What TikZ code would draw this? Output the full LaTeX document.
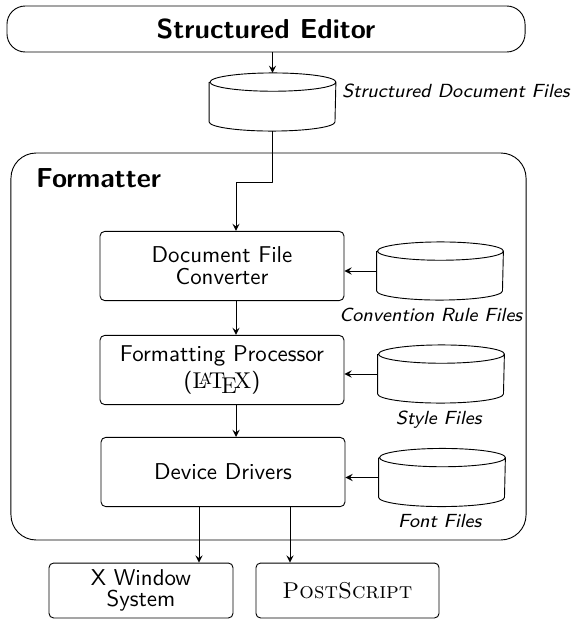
\documentclass[tikz,border=0pt]{standalone}
\usetikzlibrary{positioning}
\tikzset{
  box/.style={draw,rounded corners=2pt,minimum width=106.6pt,minimum height=30.2pt,align=center,inner sep=1pt},
  flabel/.style={font=\sffamily\fontsize{8.3pt}{10pt}\selectfont\itshape},
  title/.style={font=\sffamily\large\bfseries},
}
% a file store: named node plus the drum outline round it
\newcommand{\drum}[2]{%
  \node[minimum width=55pt,minimum height=25pt,inner sep=0pt] (#1) at (#2) {};
  \draw ([yshift=-4pt]#1.north west) -- ([yshift=4pt]#1.south west)
    arc[start angle=180,end angle=360,x radius=27.5pt,y radius=4pt]
    -- ([yshift=-4pt]#1.north east)
    arc[start angle=0,end angle=360,x radius=27.5pt,y radius=4pt];
}
\begin{document}
\begin{tikzpicture}[x=.437pt,y=-.437pt,>=stealth,line join=round,font=\sffamily]
	\useasboundingbox (0,0) rectangle (571,621);
	\node[draw,title,rounded corners=8pt,minimum width=226.4pt,minimum height=20.1pt] (editor) at (266,29) {Structured Editor};
	\drum{sdf}{272.5,102}
	\node[flabel,anchor=west] (sdflbl) at (334,91) {Structured Document Files};
	
	\node[draw,rounded corners=11pt,minimum width=225.1pt,minimum height=169.1pt] (fmt) at (268.5,346.5) {};
	\node[title,anchor=west] (fmtlbl) at (28,178) {Formatter};
	
	\node[box] (dfc) at (222,266) {Document File\\[-2.5pt]Converter};
	\node[box] (fp) at (222,370) {Formatting Processor\\(\textrm{\LaTeX})};
	\node[box] (dd) at (223,472) {Device Drivers};
	
	\drum{crf}{440,271}
	\drum{sf}{441,374}
	\drum{ff}{442,477.5}
	\node[flabel,below=0pt of crf,xshift=-4pt] (crflbl) {Convention Rule Files};
	\node[flabel,below=0pt of sf,xshift=-1pt] (sflbl) {Style Files};
	\node[flabel,below=0pt of ff,xshift=-1pt] (fflbl) {Font Files};
	
	\node[box,minimum width=80.4pt,minimum height=24pt] (xws) at (141,590.5) {X Window\\[-2.5pt]System};
	\node[box,minimum width=80pt,minimum height=24pt,font=\rmfamily] (ps) at (347.5,590.5) {\textsc{PostScript}};
	
	% connectors
	\coordinate (bend) at (236,182);
	\coordinate (toxws) at (199,540);
	\coordinate (tops) at (290,540);
	\draw[->] (editor.south -| sdf.north) -- (sdf.north);
	\draw[->] (sdf.south) |- (bend) -- (bend |- dfc.north);
	\draw[->] (bend |- dfc.south) -- (bend |- fp.north);
	\draw[->] (bend |- fp.south) -- (bend |- dd.north);
	\draw[->] (crf.west) -- (crf.west -| dfc.east);
	\draw[->] (sf.west) -- (sf.west -| fp.east);
	\draw[->] (ff.west) -- (ff.west -| dd.east);
	\draw[->] (toxws |- dd.south) -- (toxws |- xws.north);
	\draw[->] (tops |- dd.south) -- (tops |- ps.north);
\end{tikzpicture}
\end{document}
